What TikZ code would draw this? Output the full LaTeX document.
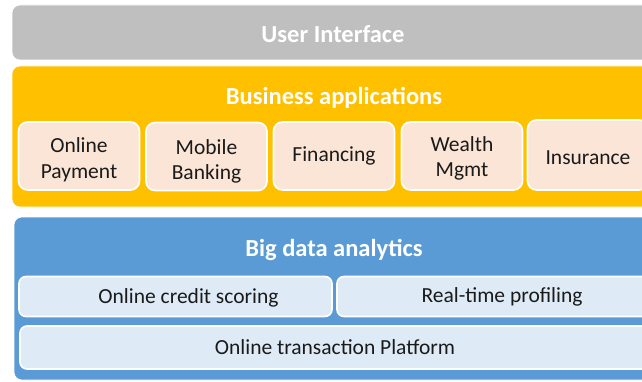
\documentclass[tikz,border=0pt]{standalone}
\usepackage{fontspec}
\setmainfont{Carlito}
\definecolor{uigray}{HTML}{BFBFBF}
\definecolor{bizyellow}{HTML}{FFC000}
\definecolor{bdblue}{HTML}{5B9BD5}
\definecolor{peach}{HTML}{FBE5D6}
\definecolor{paleblue}{HTML}{DEEBF7}
\definecolor{txt}{HTML}{1A1A1A}
\tikzset{
  layer/.style={rounded corners=8pt, inner sep=0pt, draw=white, line width=0.6pt},
  title/.style={text=white, font=\bfseries\fontsize{24.5}{28}\selectfont, inner sep=0pt},
  appbox/.style={rounded corners=9pt, fill=peach, draw=white, line width=1.6pt, minimum height=68pt, minimum width=121pt, inner sep=0pt},
  anbox/.style={rounded corners=7pt, fill=paleblue, draw=white, line width=1.6pt, inner sep=0pt},
  lbl/.style={inner sep=0pt, align=center, text=txt, font=\fontsize{21.5}{25.5}\selectfont}
}
\begin{document}
\begin{tikzpicture}[x=1pt,y=-1pt]
\useasboundingbox (0,0) rectangle (642,382);
\clip (0,0) rectangle (642,382);
\fill[white] (0,0) rectangle (642,382);
% layers
\node[layer, fill=uigray, minimum width=646pt, minimum height=55pt] (ui) at (335,32.5) {};
\node[title] (uit) at (333,34) {User Interface};
\node[layer, fill=bizyellow, minimum width=646pt, minimum height=141pt] (biz) at (335,136.5) {};
\node[title] (bizt) at (334,98) {Business applications};
\node[layer, fill=bdblue, minimum width=644pt, minimum height=163pt] (bd) at (336,298.5) {};
\node[title] (bdt) at (334,250) {Big data analytics};
% business apps
\node[appbox, label={[lbl, yshift=-4pt]center:{Online\\Payment}}] (pay) at (79,156) {};
\node[appbox, label={[lbl, yshift=-5pt]center:{Mobile\\Banking}}] (mob) at (206.5,156.5) {};
\node[appbox, label={[lbl, yshift=0pt]center:{Financing}}] (fin) at (334,156) {};
\node[appbox, label={[lbl, yshift=-2.5pt]center:{Wealth\\Mgmt}}] (wea) at (462,156) {};
\node[appbox, minimum height=70pt, label={[lbl, yshift=-3pt]center:{Insurance}}] (ins) at (588,155) {};
% analytics
\node[anbox, minimum width=313pt, minimum height=40pt, label={[lbl, xshift=13pt, yshift=-1.5pt]center:{Online credit scoring}}] (cred) at (175.5,296.5) {};
\node[anbox, minimum width=330pt, minimum height=40pt, label={[lbl, yshift=-0.5pt]center:{Real-time profiling}}] (prof) at (502,296.5) {};
\node[anbox, minimum width=630pt, minimum height=43pt, label={[lbl]center:{Online transaction Platform}}] (otp) at (335,347.5) {};
\end{tikzpicture}
\end{document}
